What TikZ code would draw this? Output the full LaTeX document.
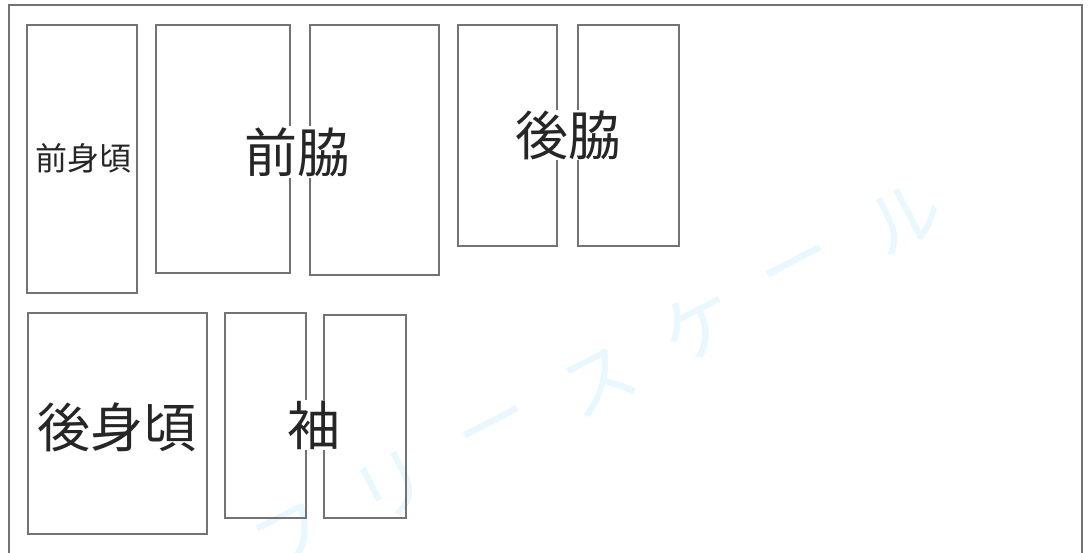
\documentclass[tikz,border=0pt]{standalone}
\usepackage{fontspec}
\newfontfamily\jp{Noto Sans CJK JP}
\begin{document}
\begin{tikzpicture}[x=1pt,y=-1pt,
  piece/.style={draw=black!55, line width=1.4pt},
  wmark/.style={font=\jp\fontsize{74}{74}\selectfont, text=cyan!9, rotate=27.5, inner sep=0pt},
  lbl/.style={font=\jp\fontsize{53}{53}\selectfont, fill=white, inner sep=1pt, text=black!85},
  smalllbl/.style={font=\jp\fontsize{32}{32}\selectfont, fill=white, inner sep=1pt, text=black!85}]
\useasboundingbox (0,0) rectangle (1091,552);
\fill[white] (0,0) rectangle (1091,552);
% watermark
\node[wmark] (w1) at (292,538) {フ};
\node[wmark] (w2) at (392,487) {リ};
\node[wmark] (w3) at (497,433) {ー};
\node[wmark] (w4) at (600,382) {ス};
\node[wmark] (w5) at (698,326) {ケ};
\node[wmark] (w6) at (800,272) {ー};
\node[wmark] (w7) at (905,218) {ル};
% outer frame
\draw[draw=black!55, line width=1.4pt] (9,560) -- (9,5) -- (1082,5) -- (1082,560);
% pieces
\draw[piece] (27,25) rectangle (137,293);
\draw[piece] (156,25) rectangle (290,273);
\draw[piece] (310,25) rectangle (439,275);
\draw[piece] (458,25) rectangle (557,246);
\draw[piece] (578,25) rectangle (679,246);
\draw[piece] (28,313) rectangle (207,534);
\draw[piece] (225,313) rectangle (306,518);
\draw[piece] (324,315) rectangle (406,518);
% labels
\node[smalllbl] (maemigoro) at (83,158) {前身頃};
\node[lbl] (maewaki) at (297,152) {前脇};
\node[lbl] (ushirowaki) at (568,135) {後脇};
\node[lbl] (ushiromigoro) at (117,427) {後身頃};
\node[lbl] (sode) at (314,425) {袖};
\end{tikzpicture}
\end{document}
